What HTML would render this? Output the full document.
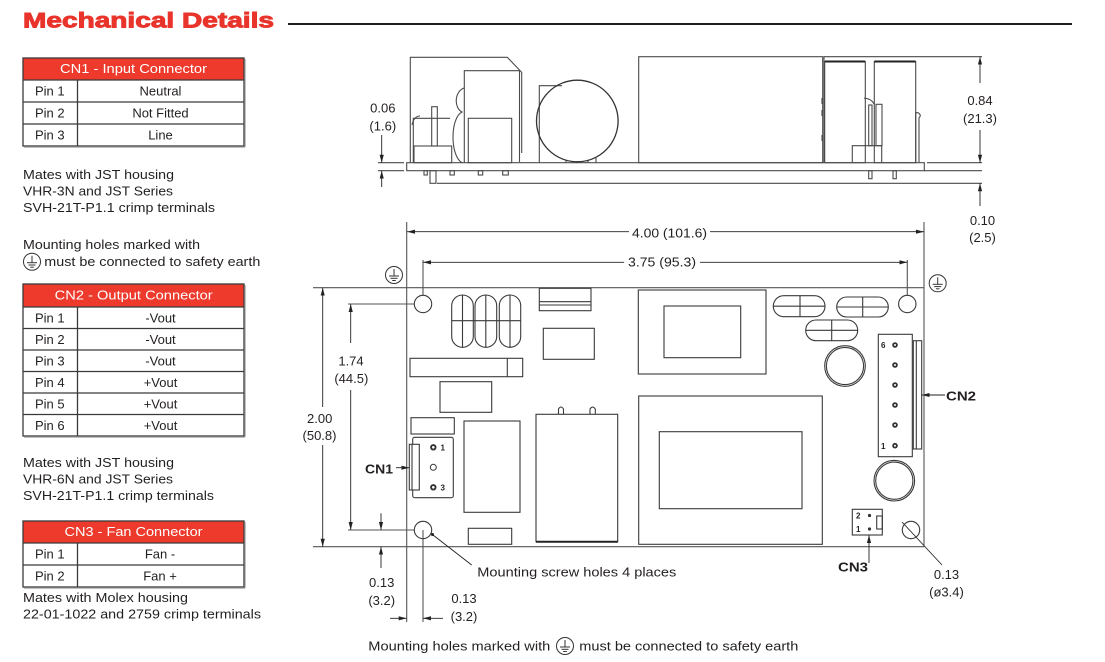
<!DOCTYPE html>
<html><head><meta charset="utf-8"><style>
html,body{margin:0;padding:0;background:#fff;}
svg{display:block;}
text{font-family:"Liberation Sans",Arial,sans-serif;fill:#231f20;}
</style></head><body>
<svg width="1105" height="662" viewBox="0 0 1105 662" xmlns="http://www.w3.org/2000/svg">
<defs>
<marker id="ar" viewBox="0 0 8 6" refX="8" refY="3" markerWidth="8" markerHeight="6" markerUnits="userSpaceOnUse" orient="auto"><path d="M0,0.9 L8,3 L0,5.1z" fill="#222"/></marker>
<g id="earth" fill="none" stroke="#333" stroke-width="1"><circle cx="0" cy="0" r="8.5"/><line x1="0" y1="-6" x2="0" y2="1"/><line x1="-5" y1="1" x2="5" y2="1"/><line x1="-3.5" y1="3.3" x2="3.5" y2="3.3"/><line x1="-1.8" y1="5.5" x2="1.8" y2="5.5"/></g>
</defs>

<!-- Title -->
<text x="23" y="27.3" font-size="21" font-weight="bold" style="fill:#e8342a;stroke:#e8342a;stroke-width:0.9" textLength="251" lengthAdjust="spacingAndGlyphs">Mechanical Details</text>
<line x1="288" y1="24" x2="1072" y2="24" stroke="#231f20" stroke-width="2"/>

<!-- CN1 table -->
<rect x="23" y="58" width="221" height="22" fill="#ed3a2c"/>
<g fill="none" stroke="#3a3a3a" stroke-width="1.3">
<rect x="23" y="58" width="221" height="88"/>
<line x1="23" y1="80" x2="244" y2="80"/><line x1="23" y1="102" x2="244" y2="102"/><line x1="23" y1="124" x2="244" y2="124"/>
<line x1="77.5" y1="80" x2="77.5" y2="146"/>
</g>
<line x1="245" y1="59" x2="245" y2="147" stroke="#999" stroke-width="1.2"/>
<line x1="24" y1="147" x2="245" y2="147" stroke="#999" stroke-width="1.2"/>
<text x="133.5" y="73" font-size="13" style="fill:#fff" text-anchor="middle" textLength="147" lengthAdjust="spacingAndGlyphs">CN1 - Input Connector</text>
<g font-size="13">
<text x="35" y="95.5">Pin 1</text><text x="160.5" y="95.5" text-anchor="middle">Neutral</text>
<text x="35" y="117.5">Pin 2</text><text x="160.5" y="117.5" text-anchor="middle">Not Fitted</text>
<text x="35" y="139.5">Pin 3</text><text x="160.5" y="139.5" text-anchor="middle">Line</text>
</g>
<g font-size="13">
<text x="23" y="179" textLength="151" lengthAdjust="spacingAndGlyphs">Mates with JST housing</text>
<text x="23" y="195.5" textLength="150" lengthAdjust="spacingAndGlyphs">VHR-3N and JST Series</text>
<text x="23" y="212" textLength="192" lengthAdjust="spacingAndGlyphs">SVH-21T-P1.1 crimp terminals</text>
<text x="23" y="249" textLength="177" lengthAdjust="spacingAndGlyphs">Mounting holes marked with</text>
<text x="44.3" y="266" textLength="216" lengthAdjust="spacingAndGlyphs">must be connected to safety earth</text>
</g>
<use href="#earth" x="32" y="261.7"/>

<!-- CN2 table -->
<rect x="23" y="284" width="221" height="23" fill="#ed3a2c"/>
<g fill="none" stroke="#3a3a3a" stroke-width="1.3">
<rect x="23" y="284" width="221" height="152"/>
<line x1="23" y1="307" x2="244" y2="307"/><line x1="23" y1="328.5" x2="244" y2="328.5"/><line x1="23" y1="350" x2="244" y2="350"/><line x1="23" y1="371.5" x2="244" y2="371.5"/><line x1="23" y1="393" x2="244" y2="393"/><line x1="23" y1="414.5" x2="244" y2="414.5"/>
<line x1="77.5" y1="307" x2="77.5" y2="436"/>
</g>
<line x1="245" y1="285" x2="245" y2="437" stroke="#999" stroke-width="1.2"/>
<line x1="24" y1="437" x2="245" y2="437" stroke="#999" stroke-width="1.2"/>
<text x="133.7" y="299.5" font-size="13" style="fill:#fff" text-anchor="middle" textLength="158" lengthAdjust="spacingAndGlyphs">CN2 - Output Connector</text>
<g font-size="13">
<text x="35" y="322.5">Pin 1</text><text x="160.5" y="322.5" text-anchor="middle">-Vout</text>
<text x="35" y="344">Pin 2</text><text x="160.5" y="344" text-anchor="middle">-Vout</text>
<text x="35" y="365.5">Pin 3</text><text x="160.5" y="365.5" text-anchor="middle">-Vout</text>
<text x="35" y="387">Pin 4</text><text x="160.5" y="387" text-anchor="middle">+Vout</text>
<text x="35" y="408.5">Pin 5</text><text x="160.5" y="408.5" text-anchor="middle">+Vout</text>
<text x="35" y="430">Pin 6</text><text x="160.5" y="430" text-anchor="middle">+Vout</text>
</g>
<g font-size="13">
<text x="23" y="467" textLength="151" lengthAdjust="spacingAndGlyphs">Mates with JST housing</text>
<text x="23" y="483.5" textLength="150" lengthAdjust="spacingAndGlyphs">VHR-6N and JST Series</text>
<text x="23" y="500" textLength="191" lengthAdjust="spacingAndGlyphs">SVH-21T-P1.1 crimp terminals</text>
</g>

<!-- CN3 table -->
<rect x="23" y="521" width="221" height="22" fill="#ed3a2c"/>
<g fill="none" stroke="#3a3a3a" stroke-width="1.3">
<rect x="23" y="521" width="221" height="66"/>
<line x1="23" y1="543" x2="244" y2="543"/><line x1="23" y1="565" x2="244" y2="565"/>
<line x1="77.5" y1="543" x2="77.5" y2="587"/>
</g>
<line x1="245" y1="522" x2="245" y2="588" stroke="#999" stroke-width="1.2"/>
<line x1="24" y1="588" x2="245" y2="588" stroke="#999" stroke-width="1.2"/>
<text x="133.5" y="536" font-size="13" style="fill:#fff" text-anchor="middle" textLength="138" lengthAdjust="spacingAndGlyphs">CN3 - Fan Connector</text>
<g font-size="13">
<text x="35" y="558.5">Pin 1</text><text x="160" y="558.5" text-anchor="middle">Fan -</text>
<text x="35" y="580.5">Pin 2</text><text x="160" y="580.5" text-anchor="middle">Fan +</text>
<text x="23" y="602" textLength="165" lengthAdjust="spacingAndGlyphs">Mates with Molex housing</text>
<text x="23" y="618.5" textLength="238" lengthAdjust="spacingAndGlyphs">22-01-1022 and 2759 crimp terminals</text>
</g>

<!-- ================= SIDE VIEW ================= -->
<g fill="none" stroke="#4a4a4a" stroke-width="1.1">
<rect x="406.7" y="162.7" width="517.6" height="8"/>
<line x1="927" y1="162.7" x2="982" y2="162.7"/>
<line x1="924" y1="170.7" x2="982" y2="170.7"/>
<line x1="437" y1="183.3" x2="982" y2="183.3"/>
<line x1="378" y1="162.7" x2="404" y2="162.7"/>
<line x1="378" y1="170.7" x2="404" y2="170.7"/>
<path d="M410.3,162.7 V57.3 H507.3 L521.7,72.3 V153"/>
<path d="M464.3,162.7 V70.7 H519.5 V162"/>
<rect x="468.3" y="118.3" width="43.4" height="44.4"/>
<path d="M413.3,162.7 V118.3 H450"/>
<path d="M412,125 Q414,116 420,116"/>
<rect x="414" y="146" width="37.7" height="16.7"/>
<rect x="431.7" y="106.7" width="5.6" height="39.3"/>
<path d="M464,88 C454,92 454,108 462,112 C450,118 450,156 462,162.7"/>
<path d="M562,85.7 H539.3 V162.7"/>
<circle cx="577.3" cy="121" r="40.8" stroke="#333" stroke-width="1.3"/>
<path d="M566,160 v2.7 M575,161 v1.7 M588,161 v1.7 M596,157 v5.7"/>
<rect x="638.7" y="56.7" width="184" height="106"/>
<path d="M824,162.7 V56.7 H982"/>
<rect x="824.7" y="61.5" width="40.6" height="101.2"/>
<rect x="874.3" y="61.5" width="41.4" height="101.2"/>
<path d="M852.3,162.7 V145.7 H881.7 V162.7"/>
<rect x="868.7" y="105" width="3.3" height="40.7"/>
<rect x="876" y="104.3" width="6" height="41.4"/>
<path d="M864,98 Q872,99 874,104"/>
<path d="M915.7,162.7 V112.7 H918 Q922,115 919,118 V162.7"/>
<path d="M822,98 v6 M822,110 v6 M822,135 v6"/>
<rect x="868.7" y="170.7" width="3.3" height="8"/>
<rect x="893" y="170.7" width="3.3" height="8"/>
<rect x="424" y="170.7" width="3.3" height="4.3"/>
<rect x="430" y="170.7" width="6" height="12.6"/>
<rect x="450" y="170.7" width="4.3" height="4.3"/>
<rect x="478.3" y="170.7" width="4.4" height="4.3"/>
<rect x="502.7" y="170.7" width="5.6" height="4.3"/>
</g>
<path d="M825,61.5 H865 M874.5,61.5 H915.5" stroke="#222" stroke-width="2"/>

<g stroke="#222" stroke-width="0.9" fill="none">
<line x1="381.7" y1="135" x2="381.7" y2="162.7" marker-end="url(#ar)"/>
<line x1="381.7" y1="187" x2="381.7" y2="170.7" marker-end="url(#ar)"/>
<line x1="980" y1="83" x2="980" y2="56.7" marker-end="url(#ar)"/>
<line x1="980" y1="130" x2="980" y2="162.7" marker-end="url(#ar)"/>
<line x1="980" y1="206" x2="980" y2="183.3" marker-end="url(#ar)"/>
</g>
<g font-size="13" text-anchor="middle">
<text x="382.8" y="112.7">0.06</text>
<text x="382.8" y="130.7">(1.6)</text>
<text x="980" y="105">0.84</text>
<text x="980" y="123">(21.3)</text>
<text x="982.5" y="225">0.10</text>
<text x="982.5" y="242">(2.5)</text>
</g>

<!-- ================= TOP VIEW ================= -->
<g fill="none" stroke="#555" stroke-width="1.1">
<line x1="313" y1="287.7" x2="924" y2="287.7"/>
<line x1="313" y1="546.7" x2="924" y2="546.7"/>
<line x1="406.7" y1="222" x2="406.7" y2="622"/>
<line x1="924" y1="222" x2="924" y2="546.7"/>
<line x1="423" y1="260" x2="423" y2="295.3"/>
<line x1="907.3" y1="260" x2="907.3" y2="295.3"/>
<line x1="348" y1="304" x2="414.3" y2="304"/>
<line x1="348" y1="530" x2="414.3" y2="530"/>
<line x1="423" y1="530" x2="423" y2="622"/>
</g>
<g fill="none" stroke="#3a3a3a" stroke-width="1.1">
<circle cx="423" cy="304" r="8.7"/>
<circle cx="907.3" cy="304" r="8.7"/>
<circle cx="423" cy="530" r="8.7"/>
<circle cx="911" cy="530" r="8.7"/>
<rect x="451.7" y="295" width="21.6" height="52.3" rx="10.8" ry="10.8"/>
<rect x="475" y="295" width="21.7" height="52.3" rx="10.8" ry="10.8"/>
<rect x="499.3" y="295" width="21.4" height="52.3" rx="10.7" ry="10.7"/>
<path d="M462.5,295 V347.3 M485.8,295 V347.3 M510,295 V347.3 M451.7,320.7 H520.7"/>
<rect x="539.3" y="288.3" width="51.7" height="22.4"/>
<path d="M539.3,301.7 H591 M539.3,305 H591"/>
<rect x="543.3" y="328.3" width="51" height="31"/>
<rect x="410" y="358.3" width="112.7" height="18.4"/>
<line x1="507.3" y1="358.3" x2="507.3" y2="376.7"/>
<rect x="440" y="381.7" width="51.7" height="30.6"/>
<rect x="411" y="417.7" width="43.3" height="16.3"/>
<rect x="412.7" y="437.3" width="40.6" height="60.4" rx="2"/>
<rect x="409.3" y="444.3" width="10" height="45.7" fill="#fff"/>
<line x1="412" y1="444.3" x2="412" y2="490"/>
<rect x="464" y="421" width="56" height="91.3"/>
<rect x="468.3" y="528.3" width="43.4" height="16"/>
<rect x="536" y="414.3" width="81.7" height="127.4"/>
<path d="M558.5,414.3 V409 Q561,405 563.5,409 V414.3 M590,414.3 V409 Q592.7,405 595.3,409 V414.3"/>
<rect x="638.7" y="396" width="183.6" height="148.3"/>
<rect x="659.3" y="431.7" width="142.7" height="77"/>
<rect x="638.3" y="290" width="127.7" height="84"/>
<rect x="664" y="306" width="76.7" height="51.7"/>
<rect x="773.3" y="295.7" width="51.7" height="21" rx="10.5" ry="10.5"/>
<rect x="836.7" y="297" width="51.6" height="20" rx="10" ry="10"/>
<rect x="805.7" y="320" width="52" height="20.7" rx="10.3" ry="10.3"/>
<path d="M800,295.7 V316.7 M773.3,306.2 H825 M862.7,297 V317 M836.7,307 H888.3 M831.7,320 V340.7 M805.7,330.3 H857.7"/>
<circle cx="845" cy="366" r="20.3"/>
<circle cx="845" cy="366" r="18.6"/>
<circle cx="894.3" cy="480.7" r="20.3"/>
<circle cx="894.3" cy="480.7" r="18.6"/>
<rect x="878.3" y="334.3" width="34" height="122.4"/>
<rect x="913.3" y="340.7" width="8.4" height="108.3"/>
<line x1="916.3" y1="340.7" x2="916.3" y2="449"/>
<rect x="852.3" y="509.3" width="30" height="25.7"/>
<rect x="876.7" y="516" width="5.6" height="13"/>
<line x1="902" y1="522" x2="942" y2="565" stroke="#222" stroke-width="0.9"/>
</g>
<line x1="536" y1="541.7" x2="617.7" y2="541.7" stroke="#222" stroke-width="2"/>
<g fill="#333" stroke="none">
<circle cx="433.3" cy="447.3" r="3.2"/><circle cx="433.3" cy="487.3" r="3.2"/>
<circle cx="895" cy="345" r="2.8"/><circle cx="895" cy="365" r="2.8"/><circle cx="895" cy="385" r="2.8"/><circle cx="895" cy="405" r="2.8"/><circle cx="895" cy="425" r="2.8"/><circle cx="895" cy="445.7" r="2.8"/>
<circle cx="869.5" cy="515.5" r="1.6"/><circle cx="869.5" cy="529" r="1.6"/>
</g>
<g fill="#fff" stroke="none">
<circle cx="433.3" cy="447.3" r="1.3"/><circle cx="433.3" cy="487.3" r="1.3"/>
<circle cx="895" cy="345" r="1"/><circle cx="895" cy="365" r="1"/><circle cx="895" cy="385" r="1"/><circle cx="895" cy="405" r="1"/><circle cx="895" cy="425" r="1"/><circle cx="895" cy="445.7" r="1"/>
</g>
<circle cx="433.3" cy="467.3" r="3" fill="none" stroke="#333" stroke-width="1"/>
<g font-size="8" font-weight="bold">
<text x="440.5" y="450.5">1</text><text x="440.5" y="490.5">3</text>
<text x="881" y="348">6</text><text x="881" y="449">1</text>
<text x="856" y="518.5">2</text><text x="856" y="532">1</text>
</g>

<use href="#earth" x="394" y="275"/>
<use href="#earth" x="937.7" y="283.3"/>
<use href="#earth" x="565" y="646"/>

<g stroke="#222" stroke-width="0.9" fill="none">
<line x1="629" y1="231.7" x2="407" y2="231.7" marker-end="url(#ar)"/>
<line x1="710" y1="231.7" x2="924" y2="231.7" marker-end="url(#ar)"/>
<line x1="624" y1="262.3" x2="423" y2="262.3" marker-end="url(#ar)"/>
<line x1="700" y1="262.3" x2="907.3" y2="262.3" marker-end="url(#ar)"/>
<line x1="322.7" y1="407" x2="322.7" y2="287.7" marker-end="url(#ar)"/>
<line x1="322.7" y1="445" x2="322.7" y2="546.7" marker-end="url(#ar)"/>
<line x1="350.7" y1="343" x2="350.7" y2="304" marker-end="url(#ar)"/>
<line x1="350.7" y1="390" x2="350.7" y2="530" marker-end="url(#ar)"/>
<line x1="381" y1="513.3" x2="381" y2="530" marker-end="url(#ar)"/>
<line x1="381" y1="568" x2="381" y2="546.7" marker-end="url(#ar)"/>
<line x1="390" y1="618.3" x2="406.7" y2="618.3" marker-end="url(#ar)"/>
<line x1="443" y1="618.3" x2="423" y2="618.3" marker-end="url(#ar)"/>
<line x1="396" y1="467.7" x2="409.3" y2="467.7" marker-end="url(#ar)"/>
<line x1="945" y1="395" x2="921.7" y2="395" marker-end="url(#ar)"/>
<line x1="869" y1="563" x2="869" y2="535" marker-end="url(#ar)"/>
<line x1="433" y1="535" x2="471.7" y2="565"/>
</g>
<circle cx="432.5" cy="534.5" r="1.5" fill="#222"/>
<g font-size="13" text-anchor="middle">
<text x="669.5" y="237.5" textLength="75" lengthAdjust="spacingAndGlyphs">4.00 (101.6)</text>
<text x="662" y="266.5" textLength="68" lengthAdjust="spacingAndGlyphs">3.75 (95.3)</text>
<text x="319.7" y="423">2.00</text>
<text x="319.5" y="440">(50.8)</text>
<text x="351" y="365.5">1.74</text>
<text x="351.3" y="383">(44.5)</text>
<text x="381.7" y="587">0.13</text>
<text x="381.7" y="605">(3.2)</text>
<text x="464" y="603">0.13</text>
<text x="464" y="621">(3.2)</text>
<text x="946.5" y="579">0.13</text>
<text x="946.5" y="596.5">(ø3.4)</text>
</g>
<g font-size="13">
<text x="477.3" y="576.5" textLength="199" lengthAdjust="spacingAndGlyphs">Mounting screw holes 4 places</text>
<text x="368.3" y="650.7" textLength="182" lengthAdjust="spacingAndGlyphs">Mounting holes marked with</text>
<text x="579.3" y="650.7" textLength="219" lengthAdjust="spacingAndGlyphs">must be connected to safety earth</text>
</g>
<g font-size="13" font-weight="bold">
<text x="365" y="473.3" textLength="28" lengthAdjust="spacingAndGlyphs">CN1</text>
<text x="946" y="400.7" textLength="30" lengthAdjust="spacingAndGlyphs">CN2</text>
<text x="838" y="571.5" textLength="30" lengthAdjust="spacingAndGlyphs">CN3</text>
</g>
</svg>
</body></html>
